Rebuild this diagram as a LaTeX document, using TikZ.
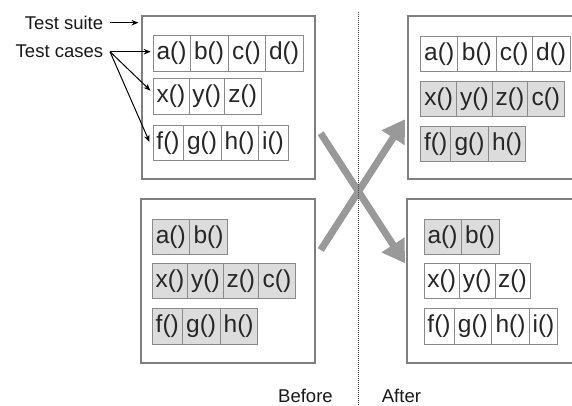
\documentclass[tikz,border=0pt]{standalone}
\usepackage{fontspec}
\setmainfont{Liberation Sans}
\usetikzlibrary{arrows.meta}
\definecolor{boxgray}{HTML}{7F7F7F}
\definecolor{cellline}{HTML}{8A8A8A}
\definecolor{cellfill}{HTML}{DCDCDC}
\definecolor{arrowgray}{HTML}{999999}
\begin{document}
\begin{tikzpicture}[x=1pt,y=-1pt,
  suite/.style={draw=boxgray,line width=1.8pt,fill=white,anchor=north west,inner sep=0,outer sep=0},
  cell/.style={draw=cellline,line width=0.9pt,minimum height=35.5pt,inner sep=0,outer sep=0,anchor=west,font=\fontsize{24.5}{28}\selectfont,text=black!85},
  shaded/.style={cell,fill=cellfill},
  plain/.style={cell,fill=white},
  lbl/.style={inner sep=0,font=\fontsize{18.5}{22}\selectfont,text=black!90},
  annot/.style={line width=1pt,-{Stealth[length=7pt,width=5.5pt]}},
  swaparrow/.style={draw=arrowgray,line width=7pt,-{Triangle[length=22pt,width=26pt]}},
  divider/.style={draw=black!75,line width=0.8pt,dash pattern=on 1pt off 1pt}]
\clip (0,0) rectangle (572,406);
\fill[white] (0,0) rectangle (572,406);

% suites
\node[suite,minimum width=173pt,minimum height=163pt] (TL) at (142,16) {};
\node[suite,minimum width=174pt,minimum height=164pt] (BL) at (141,199) {};
\node[suite,minimum width=180pt,minimum height=163pt] (TR) at (408,16) {};
\node[suite,minimum width=180pt,minimum height=164pt] (BR) at (407,199) {};

% top-left (before)
\node[plain,minimum width=37pt] (tl1a) at (153,53.5) {a()};
\node[plain,minimum width=38pt] (tl1b) at (tl1a.east) {b()};
\node[plain,minimum width=37pt] (tl1c) at (tl1b.east) {c()};
\node[plain,minimum width=38pt] (tl1d) at (tl1c.east) {d()};
\node[plain,minimum width=36pt] (tl2x) at (153,96.5) {x()};
\node[plain,minimum width=35.5pt] (tl2y) at (tl2x.east) {y()};
\node[plain,minimum width=36.5pt] (tl2z) at (tl2y.east) {z()};
\node[plain,minimum width=30pt] (tl3f) at (153,143) {f()};
\node[plain,minimum width=38pt] (tl3g) at (tl3f.east) {g()};
\node[plain,minimum width=37pt] (tl3h) at (tl3g.east) {h()};
\node[plain,minimum width=30pt] (tl3i) at (tl3h.east) {i()};

% bottom-left (before)
\node[shaded,minimum width=37pt] (bl1a) at (152.3,237) {a()};
\node[shaded,minimum width=38.4pt] (bl1b) at (bl1a.east) {b()};
\node[shaded,minimum width=35.4pt] (bl2x) at (152.3,281) {x()};
\node[shaded,minimum width=35.6pt] (bl2y) at (bl2x.east) {y()};
\node[shaded,minimum width=35pt] (bl2z) at (bl2y.east) {z()};
\node[shaded,minimum width=37.4pt] (bl2c) at (bl2z.east) {c()};
\node[shaded,minimum width=30pt] (bl3f) at (152.3,326.5) {f()};
\node[shaded,minimum width=37.7pt] (bl3g) at (bl3f.east) {g()};
\node[shaded,minimum width=37.3pt] (bl3h) at (bl3g.east) {h()};

% top-right (after)
\node[plain,minimum width=37pt] (tr1a) at (420.7,53.8) {a()};
\node[plain,minimum width=38.3pt] (tr1b) at (tr1a.east) {b()};
\node[plain,minimum width=36.3pt] (tr1c) at (tr1b.east) {c()};
\node[plain,minimum width=37.7pt] (tr1d) at (tr1c.east) {d()};
\node[shaded,minimum width=36pt] (tr2x) at (420.7,99) {x()};
\node[shaded,minimum width=35.6pt] (tr2y) at (tr2x.east) {y()};
\node[shaded,minimum width=35.4pt] (tr2z) at (tr2y.east) {z()};
\node[shaded,minimum width=36.3pt] (tr2c) at (tr2z.east) {c()};
\node[shaded,minimum width=30pt] (tr3f) at (420.7,143.8) {f()};
\node[shaded,minimum width=37.6pt] (tr3g) at (tr3f.east) {g()};
\node[shaded,minimum width=37.4pt] (tr3h) at (tr3g.east) {h()};

% bottom-right (after)
\node[shaded,minimum width=37pt] (br1a) at (424,237) {a()};
\node[shaded,minimum width=38pt] (br1b) at (br1a.east) {b()};
\node[plain,minimum width=35.3pt] (br2x) at (424,281) {x()};
\node[plain,minimum width=35.7pt] (br2y) at (br2x.east) {y()};
\node[plain,minimum width=35pt] (br2z) at (br2y.east) {z()};
\node[plain,minimum width=30pt] (br3f) at (424,326.5) {f()};
\node[plain,minimum width=37.7pt] (br3g) at (br3f.east) {g()};
\node[plain,minimum width=37.6pt] (br3h) at (br3g.east) {h()};
\node[plain,minimum width=28.4pt] (br3i) at (br3h.east) {i()};

% swap arrows
\coordinate (dnS) at (320.7,133.3);
\coordinate (dnE) at (405,263.3);
\coordinate (upS) at (320.7,250);
\coordinate (upE) at (405,119.3);
\draw[swaparrow] (dnS) -- (dnE);
\draw[swaparrow] (upS) -- (upE);

% divider
\coordinate (divT) at (358.3,12);
\coordinate (divB) at (358.3,406);
\draw[divider] (divT) -- (divB);

% labels
\node[lbl,anchor=base east] (ts) at (103.3,29.3) {Test suite};
\node[lbl,anchor=base east] (tc) at (103.3,57.3) {Test cases};
\node[lbl,anchor=base west] (bef) at (278,402.5) {Before};
\node[lbl,anchor=base west] (aft) at (381.7,402.5) {After};

% annotation arrows
\coordinate (tsS) at (110,22.7);
\coordinate (tsT) at (138.5,22.7);
\coordinate (tcS) at (110,51.7);
\coordinate (tcA) at (150.7,51.7);
\coordinate (tcB) at (150.5,90.7);
\coordinate (tcC) at (149.5,142);
\draw[annot] (tsS) -- (tsT);
\draw[annot] (tcS) -- (tcA);
\draw[annot] (tcS) -- (tcB);
\draw[annot] (tcS) -- (tcC);
\end{tikzpicture}
\end{document}
